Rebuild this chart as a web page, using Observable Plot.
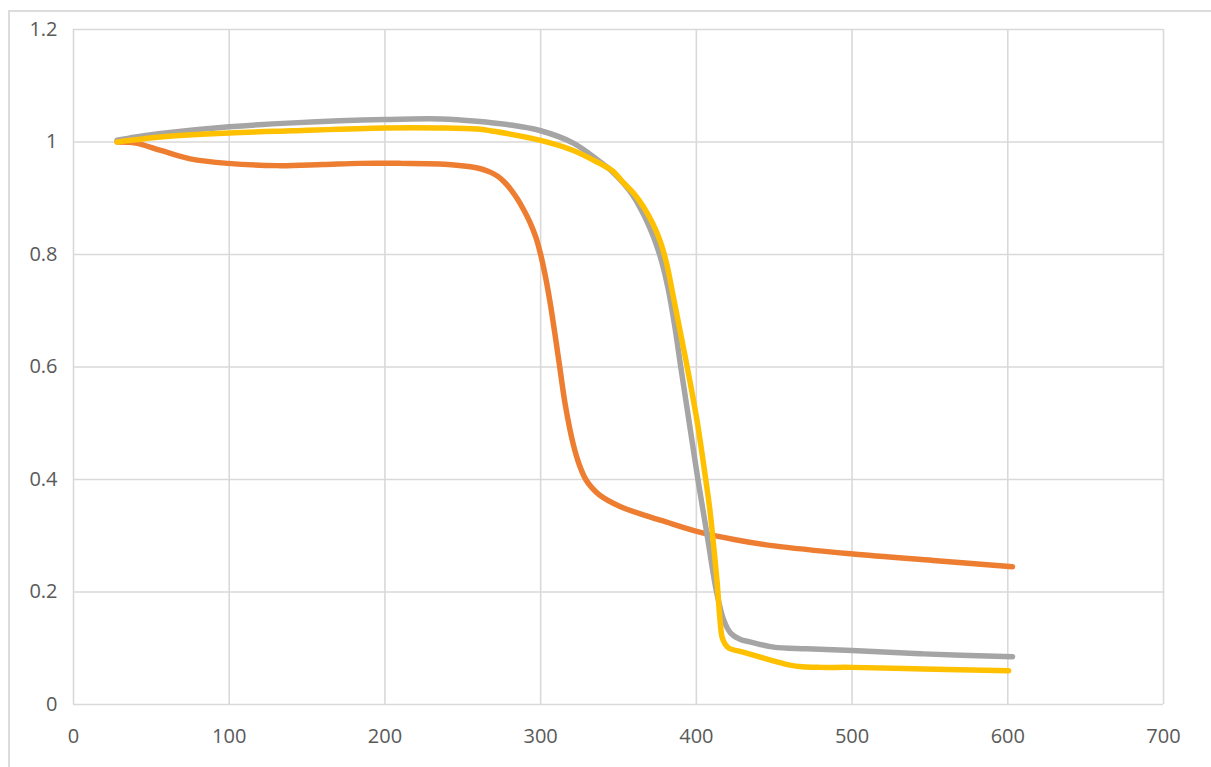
<!DOCTYPE html>
<html>
<head>
<meta charset="utf-8">
<script src="https://cdn.jsdelivr.net/npm/d3@7"></script>
<script src="https://cdn.jsdelivr.net/npm/@observablehq/plot@0.6"></script>
<style>
  html, body { margin: 0; padding: 0; background: #fff; overflow: hidden; }
  #wrap { position: relative; width: 1211px; height: 767px; }
  #edge {
    position: absolute; left: 8px; top: 10px; width: 1300px; height: 900px;
    border-top: 2px solid #dcdcdc; border-left: 2px solid #dcdcdc; box-sizing: border-box;
  }
  #chart { position: absolute; left: 0; top: 0; }
  #chart svg { overflow: visible; }
</style>
</head>
<body>
<div id="wrap"><div id="edge"></div><div id="chart"></div></div>
<script>
// Tick positions
const xTicks = [0, 100, 200, 300, 400, 500, 600, 700];
const yTicks = [0, 0.2, 0.4, 0.6, 0.8, 1, 1.2];

// Normalised curves, [x, y] pairs
const orangeSeries = [
  [28, 1.0], [40, 0.998], [56, 0.985], [75, 0.970], [99, 0.962], [131, 0.958],
  [160, 0.960], [184, 0.962], [210, 0.962], [235, 0.961], [255, 0.956], [262, 0.952],
  [268, 0.946], [273, 0.938], [277, 0.928], [281, 0.915], [285, 0.899], [289, 0.880],
  [293, 0.858], [297, 0.830], [300, 0.800], [303, 0.762], [306, 0.716], [309, 0.662],
  [312, 0.605], [316, 0.530], [321, 0.462], [325, 0.425], [329, 0.400], [333, 0.385],
  [338, 0.372], [351, 0.352], [370.6, 0.333], [380, 0.325], [402.7, 0.306], [425, 0.293],
  [450, 0.282], [499, 0.268], [552, 0.256], [603, 0.245]
];
const graySeries = [
  [28, 1.003], [40, 1.009], [56, 1.015], [100, 1.027], [141, 1.034], [200, 1.040],
  [236, 1.041], [259, 1.037], [278.5, 1.031], [300, 1.020], [321, 0.998], [338.5, 0.964],
  [345, 0.950], [353, 0.927], [360, 0.902], [366, 0.872], [370, 0.848], [374, 0.820],
  [378, 0.785], [382, 0.738], [386, 0.675], [390, 0.600], [395.5, 0.500], [401, 0.400],
  [407, 0.300], [413, 0.200], [417.6, 0.150], [422, 0.127], [428, 0.116], [435, 0.111],
  [449.6, 0.102], [471, 0.099], [500, 0.096], [546, 0.090], [603, 0.085]
];
const yellowSeries = [
  [28, 1.0], [40, 1.004], [56, 1.009], [100, 1.016], [141, 1.020], [200, 1.025],
  [236, 1.025], [259, 1.023], [270, 1.019], [300, 1.003], [321, 0.985], [338.5, 0.961],
  [346, 0.949], [353, 0.928], [360, 0.908], [366, 0.885], [372, 0.855], [377, 0.822],
  [381, 0.783], [385, 0.728], [389, 0.672], [393, 0.616], [397, 0.558], [401, 0.495],
  [405, 0.420], [408.5, 0.350], [411, 0.285], [413.4, 0.215], [415.2, 0.150], [416.5, 0.120],
  [418.5, 0.107], [421, 0.100], [430, 0.093], [440, 0.085], [450, 0.077], [460, 0.070],
  [468, 0.067], [480, 0.066], [500, 0.066], [546, 0.063], [600.5, 0.060]
];

const lineStyle = { strokeWidth: 5.5, curve: "catmull-rom", strokeLinecap: "round", strokeLinejoin: "round" };

const chart = Plot.plot({
  width: 1211,
  height: 767,
  marginLeft: 73,
  marginRight: 48,
  marginTop: 29,
  marginBottom: 63,
  style: { fontFamily: "'Open Sans', sans-serif", fontSize: "20px", color: "#595959", background: "transparent" },
  x: { domain: [0, 700] },
  y: { domain: [0, 1.2] },
  marks: [
    Plot.ruleX(xTicks, { stroke: "#d9d9d9", strokeWidth: 1.6 }),
    Plot.ruleY(yTicks, { stroke: "#d9d9d9", strokeWidth: 1.6 }),
    Plot.axisX(xTicks, { tickSize: 0, tickPadding: 24, tickFormat: d => String(d), label: null, fill: "#595959" }),
    Plot.axisY(yTicks, { tickSize: 0, tickPadding: 16, tickFormat: d => String(d), label: null, fill: "#595959" }),
    Plot.line(orangeSeries, { x: d => d[0], y: d => d[1], stroke: "#ED7D31", ...lineStyle }),
    Plot.line(graySeries, { x: d => d[0], y: d => d[1], stroke: "#A5A5A5", ...lineStyle }),
    Plot.line(yellowSeries, { x: d => d[0], y: d => d[1], stroke: "#FFC000", ...lineStyle })
  ]
});

document.getElementById("chart").appendChild(chart);
</script>
</body>
</html>
